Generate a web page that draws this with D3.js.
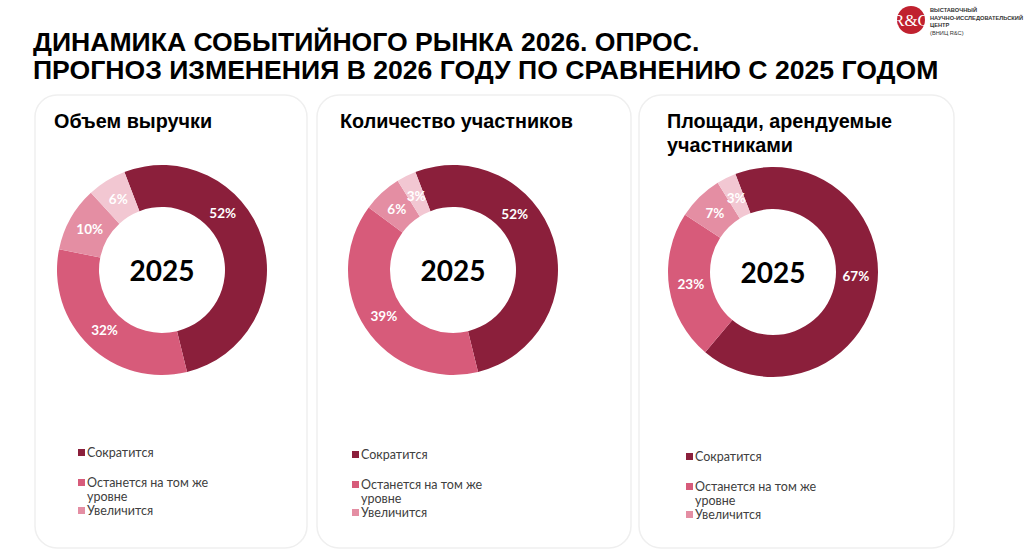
<!DOCTYPE html>
<html><head><meta charset="utf-8">
<script src="https://cdn.jsdelivr.net/npm/d3@7"></script>
<style>body{margin:0;background:#fff;}svg{display:block;}</style>
</head><body>
<script>
// ---- data ----
const titleLines = ["ДИНАМИКА СОБЫТИЙНОГО РЫНКА 2026. ОПРОС.", "ПРОГНОЗ ИЗМЕНЕНИЯ В 2026 ГОДУ ПО СРАВНЕНИЮ С 2025 ГОДОМ"];
const chartTitles = [["Объем выручки"], ["Количество участников"], ["Площади, арендуемые", "участниками"]];
const categories = ["Сократится", "Останется на том же уровне", "Увеличится", "Затрудняюсь ответить"];
const legendLabels = [["Сократится"], ["Останется на том же", "уровне"], ["Увеличится"]];
const revenueValues = [52, 32, 10, 6];
const participantsValues = [52, 39, 6, 3];
const areaValues = [67, 23, 7, 3];
const centerLabel = "2025";
const logoLines = ["ВЫСТАВОЧНЫЙ", "НАУЧНО-ИССЛЕДОВАТЕЛЬСКИЙ", "ЦЕНТР", "(ВНИЦ R&C)"];

const seriesList = [revenueValues, participantsValues, areaValues];
const colors = ["#8B1F3B", "#D75B7A", "#E48EA3", "#F2C7D2"];

const W = 1024, H = 555;
const svg = d3.select("body").append("svg").attr("width", W).attr("height", H);
const font = "'Liberation Sans', Arial, sans-serif";
const font2 = "Lato, 'Open Sans', sans-serif";

// title
svg.append("g").selectAll("text").data(titleLines).join("text")
  .attr("x", 33).attr("y", (d, i) => 51 + i * 28)
  .attr("font-family", font).attr("font-weight", "bold").attr("font-size", 26.6)
  .attr("fill", "#000").text(d => d);

// logo
const logo = svg.append("g");
logo.append("circle").attr("cx", 911).attr("cy", 20).attr("r", 14).attr("fill", "#C0212F");
logo.append("text").attr("x", 911).attr("y", 26).attr("text-anchor", "middle")
  .attr("font-family", "'Liberation Serif', serif").attr("font-size", 17).attr("fill", "#fff").text("R&C");
logo.selectAll("text.l").data(logoLines).join("text").attr("class", "l")
  .attr("x", 930).attr("y", (d, i) => 12 + i * 7.5)
  .attr("font-family", font).attr("font-weight", (d, i) => i < 3 ? "bold" : "normal")
  .attr("font-size", 5.7).attr("fill", "#333").text(d => d);

// cards
const cards = [
  {x0: 35, x1: 307, cx: 162, cy: 270, tx: 54},
  {x0: 317, x1: 631, cx: 453, cy: 270, tx: 340},
  {x0: 639, x1: 954, cx: 773, cy: 272, tx: 667}
];
const legendPos = [{x: 78, y: 457}, {x: 352, y: 459}, {x: 686, y: 461}];
const labelAngleOverride = [47, 48, 93]; // degrees, for first slice label

const R = 105, r0 = 63, labelR = 83;
const startAngle = -21 * Math.PI / 180;
const pie = d3.pie().sort(null).value(d => d).startAngle(startAngle).endAngle(startAngle + 2 * Math.PI);
const arc = d3.arc().innerRadius(r0).outerRadius(R);

cards.forEach((c, ci) => {
  const g = svg.append("g");
  g.append("rect").attr("x", c.x0).attr("y", 95).attr("width", c.x1 - c.x0).attr("height", 453)
    .attr("rx", 22).attr("fill", "#fff").attr("stroke", "#EFEFEF").attr("stroke-width", 1.5);
  // title
  g.selectAll("text.t").data(chartTitles[ci]).join("text").attr("class", "t")
    .attr("x", c.tx).attr("y", (d, i) => 128 + i * 24)
    .attr("font-family", font).attr("font-weight", "bold").attr("font-size", 19.8)
    .attr("fill", "#000").text(d => d);
  // donut
  const dg = g.append("g").attr("transform", `translate(${c.cx},${c.cy})`);
  const arcs = pie(seriesList[ci]);
  dg.selectAll("path").data(arcs).join("path").attr("d", arc)
    .attr("fill", (d, i) => colors[i]).attr("stroke", "none");
  dg.selectAll("text.v").data(arcs).join("text").attr("class", "v")
    .attr("transform", (d, i) => {
      const a = i === 0 ? labelAngleOverride[ci] * Math.PI / 180 : (d.startAngle + d.endAngle) / 2;
      return `translate(${labelR * Math.sin(a)},${-labelR * Math.cos(a) + 5})`;
    })
    .attr("text-anchor", "middle").attr("font-family", font2).attr("font-weight", "bold")
    .attr("font-size", 13.5).attr("fill", "#fff").text(d => d.data + "%");
  dg.append("text").attr("y", 11).attr("text-anchor", "middle")
    .attr("font-family", font2).attr("font-weight", "bold").attr("font-size", 28)
    .attr("fill", "#000").text(centerLabel);
  // legend
  const lp = legendPos[ci];
  const offsets = [0, 30, 58];
  legendLabels.forEach((lines, li) => {
    const y = lp.y + offsets[li];
    g.append("rect").attr("x", lp.x).attr("y", y - 8).attr("width", 7).attr("height", 7)
      .attr("fill", colors[li]);
    lines.forEach((t, k) => {
      g.append("text").attr("x", lp.x + 9).attr("y", y + k * 14)
        .attr("font-family", font2).attr("font-size", 12.5).attr("fill", "#404040").text(t);
    });
  });
});
</script>
</body></html>
